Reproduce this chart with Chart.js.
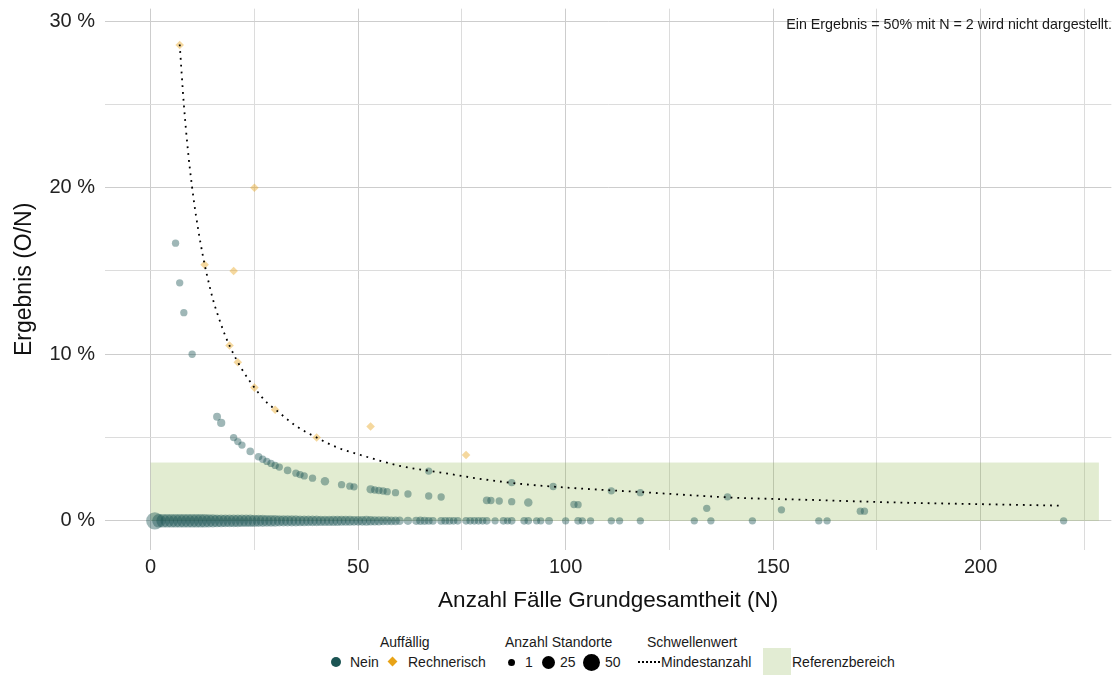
<!DOCTYPE html>
<html lang="de">
<head>
<meta charset="utf-8">
<script src="https://cdn.jsdelivr.net/npm/chart.js@4.4.1/dist/chart.umd.min.js"></script>
<style>
  body { margin: 0; background: #fff; font-family: "Liberation Sans", Arial, sans-serif; }
  #wrap { position: relative; width: 1120px; height: 675px; overflow: hidden; }
  #chart { position: absolute; left: 0; top: 0; }
  .t { position: absolute; font-size: 14px; line-height: 16px; color: #1a1a1a; white-space: nowrap; }
  .dot { position: absolute; border-radius: 50%; }
</style>
</head>
<body>
<div id="wrap">
  <canvas id="chart" width="1120" height="620"></canvas>

  <div class="t" style="right:8px; top:16px; font-size:14.3px;">Ein Ergebnis = 50% mit N = 2 wird nicht dargestellt.</div>

  <!-- legend -->
  <div class="t" style="left:380px; top:634px;">Auffällig</div>
  <div class="dot" style="left:331px; top:657px; width:10px; height:10px; background:#1b5453;"></div>
  <div class="t" style="left:350px; top:654px;">Nein</div>
  <div style="position:absolute; left:389px; top:658px; width:7px; height:7px; background:#e8a317; transform:rotate(45deg);"></div>
  <div class="t" style="left:408px; top:654px;">Rechnerisch</div>

  <div class="t" style="left:505px; top:634px;">Anzahl Standorte</div>
  <div class="dot" style="left:507.5px; top:658.5px; width:7px; height:7px; background:#000;"></div>
  <div class="t" style="left:525px; top:654px;">1</div>
  <div class="dot" style="left:541.5px; top:655.5px; width:13px; height:13px; background:#000;"></div>
  <div class="t" style="left:560px; top:654px;">25</div>
  <div class="dot" style="left:582.5px; top:653.5px; width:17px; height:17px; background:#000;"></div>
  <div class="t" style="left:605px; top:654px;">50</div>

  <div class="t" style="left:647px; top:634px;">Schwellenwert</div>
  <div style="position:absolute; left:638px; top:661px; width:22px; height:0; border-top:2px dotted #000;"></div>
  <div class="t" style="left:661px; top:654px;">Mindestanzahl</div>

  <div style="position:absolute; left:763px; top:648px; width:28px; height:27px; background:#e2ecd3;"></div>
  <div class="t" style="left:792px; top:654px;">Referenzbereich</div>
</div>

<script>
// Nein, Ergebnis > 0: N, Ergebnis in %, Anzahl Standorte
let obsN   = [6, 7, 8, 10, 16, 17, 20, 21, 22, 24, 26, 27, 28, 29, 30, 31, 33, 35, 36, 37, 39, 42, 46, 48, 49,
              53, 54, 55, 56, 57, 59, 62, 67, 67, 70, 81, 82, 84, 87, 87, 91, 97, 102, 103, 111, 118, 134, 139,
              152, 171, 172];
let obsPct = [16.67, 14.29, 12.5, 10, 6.25, 5.88, 5, 4.76, 4.55, 4.17, 3.85, 3.7, 3.57, 3.45, 3.33, 3.23, 3.03,
              2.86, 2.78, 2.7, 2.56, 2.38, 2.17, 2.08, 2.04, 1.89, 1.85, 1.82, 1.79, 1.75, 1.69, 1.61, 2.99, 1.49,
              1.43, 1.23, 1.22, 1.19, 1.15, 2.3, 1.1, 2.06, 0.98, 0.97, 1.8, 1.69, 0.75, 1.44, 0.66, 0.58, 0.58];
let obsStandorte = [2, 2, 2, 2, 4, 5, 2, 2, 2, 3, 3, 2, 2, 2, 2, 2, 3, 2, 2, 2, 2, 6, 2, 2, 2,
                    5, 2, 2, 2, 2, 2, 2, 2, 2, 2, 4, 2, 2, 2, 2, 6, 2, 2, 2, 2, 2, 2, 2,
                    2, 2, 2];

// Nein, Ergebnis = 0 %: N and Anzahl Standorte
let zeroN = [1, 2, 3, 4, 5, 6, 7, 8, 9, 10, 11, 12, 13, 14, 15, 16, 17, 18, 19, 20,
             21, 22, 23, 24, 25, 26, 27, 28, 29, 30, 31, 32, 33, 34, 35, 36, 37, 38, 39, 40,
             41, 42, 43, 44, 45, 46, 47, 48, 49, 50, 51, 52, 53, 54, 55, 56, 57, 58, 59, 60,
             62, 64, 65, 66, 67, 68, 70, 71, 72, 73, 74, 76, 77, 78, 79, 80, 81, 83, 85, 86,
             87, 90, 91, 93, 94, 96, 100, 103, 104, 106, 111, 113, 118, 131, 135, 145, 161, 163, 220];
let zeroStandorte = [55, 30, 30, 30, 30, 30, 30, 30, 30, 30, 30, 30, 30, 28, 28, 26, 26, 25, 25, 25,
                     25, 24, 24, 24, 23, 22, 22, 21, 21, 20, 18, 18, 18, 17, 17, 16, 16, 15, 15, 15,
                     14, 14, 14, 13, 13, 12, 12, 12, 11, 11, 11, 12, 10, 9, 9, 8, 8, 7, 7, 6,
                     5, 5, 6, 5, 4, 4, 4, 4, 4, 3, 3, 3, 3, 3, 3, 3, 3, 2, 3, 2,
                     3, 3, 3, 2, 2, 4, 2, 3, 2, 2, 2, 2, 2, 2, 2, 2, 2, 2, 2];

// Auffällig: Rechnerisch
let rechN   = [7, 13, 19, 20, 21, 25, 25, 30, 40, 53, 76];
let rechPct = [28.57, 15.38, 10.53, 15, 9.52, 8, 20, 6.67, 5, 5.66, 3.95];

// Schwellenwert Mindestanzahl
let threshN   = [7, 8, 9, 10, 11, 12, 13, 14, 15, 16, 18, 20, 22, 25, 28, 30, 35, 40, 45, 50,
                 60, 70, 80, 90, 100, 120, 140, 160, 180, 200, 220];
let threshPct = [28.6, 25, 22.2, 20, 18.2, 16.7, 15.4, 14.3, 13.3, 12.5, 11.1, 10, 9.1, 8, 7.1, 6.7, 5.7, 5, 4.4, 4,
                 3.3, 2.9, 2.5, 2.2, 2, 1.7, 1.4, 1.25, 1.1, 1, 0.91];

// Referenzbereich
let refN   = [0, 228.5];
let refPct = [0, 3.5];

// size scale: area grows linearly with Anzahl Standorte
let sizeFor = function (count) {
  return Math.sqrt(12.25 + 56.65 * (count - 1) / 49);
};

let neinPoints = [], neinRadius = [];
for (let i = 0; i < zeroN.length; i++) {
  neinPoints.push({x: zeroN[i], y: 0});
  neinRadius.push(sizeFor(zeroStandorte[i]));
}
for (let i = 0; i < obsN.length; i++) {
  neinPoints.push({x: obsN[i], y: obsPct[i]});
  neinRadius.push(sizeFor(obsStandorte[i]));
}

// Green reference band, behind the points.
const refBand = {
  id: 'refBand',
  beforeDatasetsDraw(chart) {
    const {ctx, scales: {x, y}} = chart;
    const x0 = x.getPixelForValue(refN[0]), x1 = x.getPixelForValue(refN[1]);
    const y0 = y.getPixelForValue(refPct[0]), y1 = y.getPixelForValue(refPct[1]);
    ctx.save();
    ctx.fillStyle = 'rgba(139,180,70,0.25)';
    ctx.fillRect(x0, y1, x1 - x0, y0 - y1);
    ctx.restore();
  }
};

let gridColor = function (c, step) {
  return (c.tick && c.tick.value % step === 0) ? '#cdcdcd' : '#dcdcdc';
};

let ctx = document.getElementById('chart').getContext('2d');
new Chart(ctx, {
  type: 'scatter',
  data: {
    datasets: [
      {
        label: 'Mindestanzahl',
        data: threshN.map((n, i) => ({x: n, y: threshPct[i]})),
        showLine: true,
        borderColor: '#000',
        borderWidth: 1.8,
        borderDash: [1.8, 5],
        pointRadius: 0,
        cubicInterpolationMode: 'monotone',
        order: 0
      },
      {
        label: 'Rechnerisch',
        data: rechN.map((n, i) => ({x: n, y: rechPct[i]})),
        pointStyle: 'rectRot',
        pointRadius: 4.3,
        backgroundColor: 'rgba(232,163,23,0.42)',
        borderWidth: 0,
        order: 1
      },
      {
        label: 'Nein',
        data: neinPoints,
        pointRadius: neinRadius,
        backgroundColor: 'rgba(27,84,83,0.42)',
        borderWidth: 0,
        order: 2
      }
    ]
  },
  options: {
    responsive: false,
    animation: false,
    layout: { padding: { top: 3, right: 2, left: 0, bottom: 0 } },
    plugins: { legend: { display: false }, tooltip: { enabled: false } },
    scales: {
      x: {
        type: 'linear',
        min: -11,
        max: 231.5,
        afterFit: function (s) { s.height = 70; s.paddingLeft = 0; s.paddingRight = 0; },
        border: { display: false },
        grid: { color: c => gridColor(c, 50), lineWidth: 1, drawTicks: false },
        ticks: {
          stepSize: 25,
          includeBounds: false,
          padding: 5,
          color: '#222',
          font: { family: 'Liberation Sans', size: 20 },
          callback: v => (v % 50 === 0 ? v : '')
        },
        title: {
          display: true,
          text: 'Anzahl Fälle Grundgesamtheit (N)',
          color: '#111',
          font: { family: 'Liberation Sans', size: 22.5 },
          padding: { top: 0, bottom: 6 }
        }
      },
      y: {
        type: 'linear',
        min: -1.75,
        max: 30.75,
        afterFit: function (s) { s.width = 105; s.paddingTop = 0; s.paddingBottom = 0; },
        border: { display: false },
        grid: { color: c => gridColor(c, 10), lineWidth: 1, drawTicks: false },
        ticks: {
          stepSize: 5,
          includeBounds: false,
          padding: 10,
          color: '#222',
          font: { family: 'Liberation Sans', size: 20 },
          callback: v => (v % 10 === 0 ? v + ' %' : '')
        },
        title: {
          display: true,
          text: 'Ergebnis (O/N)',
          color: '#111',
          font: { family: 'Liberation Sans', size: 23 },
          padding: { top: 11, bottom: 0 }
        }
      }
    }
  },
  plugins: [refBand]
});
</script>
</body>
</html>
